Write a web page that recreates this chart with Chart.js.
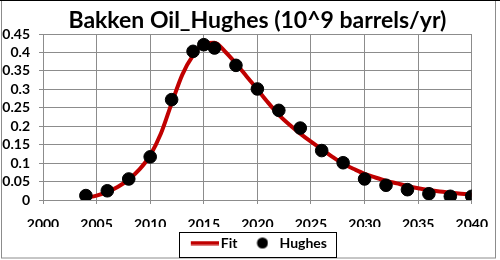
<!DOCTYPE html>
<html><head><meta charset="utf-8">
<script src="https://cdn.jsdelivr.net/npm/chart.js@4"></script>
<style>html,body{margin:0;padding:0;background:#fff}</style>
</head><body>
<canvas id="c" width="500" height="260"></canvas>
<script>
const titleText = 'Bakken Oil_Hughes (10^9 barrels/yr)';
const fitYears = [2004,2005,2006,2007,2008,2009,2010,2011,2012,2013,2014,2015,2016,2017,2018,2019,2020,2021,2022,2023,2024,2025,2026,2027,2028,2029,2030,2031,2032,2033,2034,2035,2036,2037,2038,2039,2040];
const fitValues = [0.006,0.012,0.022,0.036,0.056,0.083,0.121,0.180,0.262,0.340,0.392,0.424,0.426,0.402,0.370,0.335,0.300,0.264,0.231,0.204,0.180,0.158,0.138,0.117,0.098,0.084,0.071,0.061,0.052,0.045,0.038,0.032,0.027,0.023,0.020,0.017,0.0145];
const hughesYears = [2004,2006,2008,2010,2012,2014,2015,2016,2018,2020,2022,2024,2026,2028,2030,2032,2034,2036,2038,2040];
const hughesValues = [0.012,0.025,0.057,0.117,0.272,0.403,0.421,0.412,0.365,0.301,0.243,0.195,0.134,0.101,0.057,0.040,0.028,0.017,0.010,0.010];
const seriesNames = ['Fit','Hughes'];

const FONT = 'Lato';
const fitColor = '#C00000';
const gridColor = '#8c8c8c';

function lineSwatch(){const c=document.createElement('canvas');c.width=36;c.height=5;const g=c.getContext('2d');g.fillStyle=fitColor;g.fillRect(8,0.5,28,4);return c;}
function dotSwatch(){const c=document.createElement('canvas');c.width=18;c.height=13;const g=c.getContext('2d');g.fillStyle='#000';g.beginPath();g.arc(12,6.5,5.5,0,Math.PI*2);g.fill();return c;}
const swatches=[lineSwatch(),dotSwatch()];

const frame = {
  id:'frame',
  beforeDraw(chart){const ctx=chart.ctx;ctx.save();ctx.fillStyle='#fff';ctx.fillRect(0,0,chart.width,chart.height);ctx.restore();},
  afterDraw(chart){
    const ctx=chart.ctx;ctx.save();
    ctx.strokeStyle='#8c8c8c';ctx.lineWidth=1;ctx.strokeRect(1.5,0.5,494,257.5);
    ctx.fillStyle='#000';ctx.fillRect(0,0,chart.width,1);
    const hb=chart.legend.legendHitBoxes;
    if(hb&&hb.length){
      const l=Math.min(...hb.map(h=>h.left))-9, r=Math.max(...hb.map(h=>h.left+h.width))+9;
      const t=Math.min(...hb.map(h=>h.top))-4, b=Math.max(...hb.map(h=>h.top+h.height))+7;
      ctx.strokeStyle='#000';ctx.lineWidth=1;ctx.strokeRect(Math.round(l)+0.5,Math.round(t)+0.5,Math.round(r-l),Math.round(b-t));
    }
    ctx.restore();
  }
};

new Chart(document.getElementById('c'),{
  type:'line',
  data:{datasets:[
    {label:seriesNames[0],data:fitYears.map((x,i)=>({x,y:fitValues[i]})),borderColor:fitColor,backgroundColor:fitColor,borderWidth:4,pointRadius:0,tension:0.4,cubicInterpolationMode:'monotone',order:2},
    {label:seriesNames[1],data:hughesYears.map((x,i)=>({x,y:hughesValues[i]})),showLine:false,pointRadius:6.3,pointBackgroundColor:'#000',pointBorderColor:'#000',borderColor:'#000',backgroundColor:'#000',order:1}
  ]},
  options:{
    responsive:false,animation:false,devicePixelRatio:1,
    layout:{padding:{left:0,right:26,top:0,bottom:0}},
    plugins:{
      title:{display:true,fullSize:false,text:titleText,color:'#000',font:{family:FONT,size:23,weight:'bold'},padding:{top:6.4,bottom:0}},
      tooltip:{enabled:false},
      legend:{position:'bottom',fullSize:false,labels:{usePointStyle:true,pointStyleWidth:26,boxHeight:14,padding:9,color:'#000',font:{family:FONT,size:14,weight:'bold'},
        sort:(a,b)=>a.datasetIndex-b.datasetIndex,
        generateLabels(chart){const items=Chart.defaults.plugins.legend.labels.generateLabels(chart);items.forEach(it=>{it.pointStyle=swatches[it.datasetIndex];});return items;}}}
    },
    scales:{
      x:{type:'linear',min:2000,max:2040,
        ticks:{stepSize:5,autoSkip:false,maxRotation:0,color:'#000',padding:12,font:{family:FONT,size:14,weight:'bold'},callback:v=>String(v)},
        grid:{color:gridColor,tickLength:4,tickColor:gridColor},border:{color:gridColor},
        afterFit(s){s.height=27;}},
      y:{min:0,max:0.45,
        ticks:{stepSize:0.05,autoSkip:false,color:'#000',padding:9,font:{family:FONT,size:14,weight:'bold'},callback:v=>String(Number(v.toFixed(2)))},
        grid:{color:gridColor,tickLength:4,tickColor:gridColor},border:{color:gridColor},
        afterFit(s){s.width=43;}}
    }
  },
  plugins:[frame]
});
</script>
</body></html>
